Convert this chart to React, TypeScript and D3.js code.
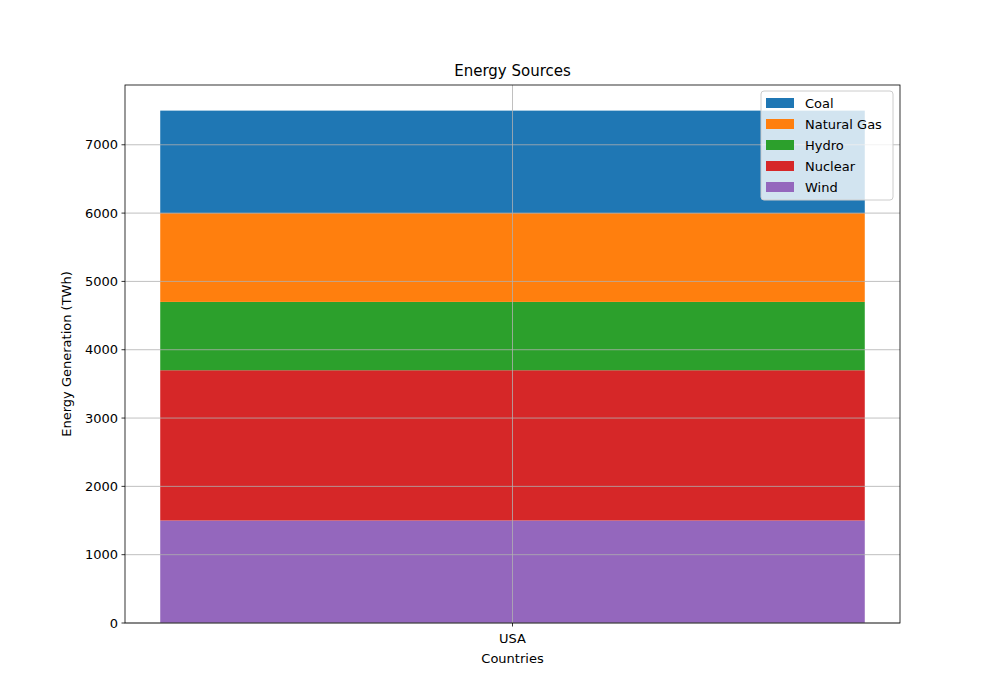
import React from "react";
import * as d3 from "d3";

const categories = ["USA"];
const seriesNames = ["Wind", "Nuclear", "Hydro", "Natural Gas", "Coal"];
const seriesValues = [[1500], [2200], [1000], [1300], [1500]];
const colors = ["#9467bd", "#d62728", "#2ca02c", "#ff7f0e", "#1f77b4"];
const yTicks = [0, 1000, 2000, 3000, 4000, 5000, 6000, 7000];
const legendOrder = ["Coal", "Natural Gas", "Hydro", "Nuclear", "Wind"];

export default function App() {
  const L = 125, R = 900, T = 85, B = 623;
  const x = d3.scaleLinear().domain([-0.44, 0.44]).range([L, R]);
  const y = d3.scaleLinear().domain([0, 7875]).range([B, T]);
  const stacks: { name: string; y0: number; y1: number; color: string }[] = [];
  let acc = 0;
  seriesNames.forEach((n, i) => {
    const v = seriesValues[i][0];
    stacks.push({ name: n, y0: acc, y1: acc + v, color: colors[i] });
    acc += v;
  });
  const font = "DejaVu Sans, sans-serif";
  return (
    <svg width={1000} height={700} style={{ display: "block", margin: -8 }} fontFamily={font}>
      <rect width={1000} height={700} fill="white" />
      {stacks.map((s) => (
        <rect key={s.name} x={x(-0.4)} width={x(0.4) - x(-0.4)} y={y(s.y1)} height={y(s.y0) - y(s.y1)} fill={s.color} />
      ))}
      {yTicks.map((t) => (
        <g key={t}>
          <line x1={L} x2={R} y1={y(t)} y2={y(t)} stroke="#b0b0b0" strokeWidth={0.8} />
          <line x1={L - 3.5} x2={L} y1={y(t)} y2={y(t)} stroke="black" strokeWidth={0.8} />
          <text x={L - 7} y={y(t)} dy="0.35em" textAnchor="end" fontSize={13}>{t}</text>
        </g>
      ))}
      {categories.map((c, i) => (
        <g key={c}>
          <line x1={x(i)} x2={x(i)} y1={T} y2={B} stroke="#b0b0b0" strokeWidth={0.8} />
          <line x1={x(i)} x2={x(i)} y1={B} y2={B + 3.5} stroke="black" strokeWidth={0.8} />
          <text x={x(i)} y={B + 20} textAnchor="middle" fontSize={13}>{c}</text>
        </g>
      ))}
      <rect x={L} y={T} width={R - L} height={B - T} fill="none" stroke="black" strokeWidth={0.8} />
      <text x={(L + R) / 2} y={76} textAnchor="middle" fontSize={15}>Energy Sources</text>
      <text x={(L + R) / 2} y={663} textAnchor="middle" fontSize={13}>Countries</text>
      <text transform={`translate(71,${(T + B) / 2}) rotate(-90)`} textAnchor="middle" fontSize={13}>Energy Generation (TWh)</text>
      <g>
        <rect x={761} y={91} width={132} height={109} rx={3} fill="white" fillOpacity={0.8} stroke="#cccccc" />
        {legendOrder.map((n, i) => (
          <g key={n}>
            <rect x={766} y={98 + i * 21} width={28} height={10} fill={colors[seriesNames.indexOf(n)]} />
            <text x={805} y={103 + i * 21} dy="0.35em" fontSize={13}>{n}</text>
          </g>
        ))}
      </g>
    </svg>
  );
}
